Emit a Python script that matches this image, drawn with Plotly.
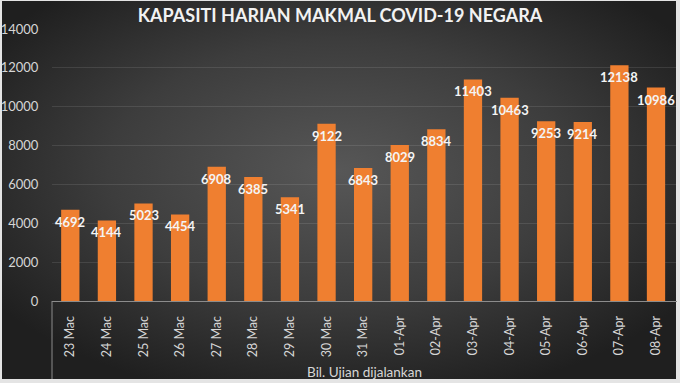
import base64
import plotly.graph_objects as go

categories = ["23 Mac", "24 Mac", "25 Mac", "26 Mac", "27 Mac", "28 Mac", "29 Mac",
              "30 Mac", "31 Mac", "01-Apr", "02-Apr", "03-Apr", "04-Apr", "05-Apr",
              "06-Apr", "07-Apr", "08-Apr"]
tests = [4692, 4144, 5023, 4454, 6908, 6385, 5341, 9122, 6843, 8029, 8834,
         11403, 10463, 9253, 9214, 12138, 10986]
y_ticks = [0, 2000, 4000, 6000, 8000, 10000, 12000, 14000]

W, H = 680, 383
L, R, T, B = 52, 3, 29, 82
pw, ph = W - L - R, H - T - B

FONT = "Lato"

svg = f'''<svg xmlns="http://www.w3.org/2000/svg" width="{W}" height="{H}" viewBox="0 0 {W} {H}">
<defs>
<radialGradient id="g" cx="0.5" cy="0.45" r="0.62">
<stop offset="0" stop-color="#575757"/>
<stop offset="0.55" stop-color="#3d3d3d"/>
<stop offset="1" stop-color="#1f1f1f"/>
</radialGradient>
</defs>
<rect x="0" y="0" width="{W}" height="{H}" fill="#e4e4e4"/>
<rect x="2" y="1" width="{W-6}" height="{H-5}" fill="url(#g)"/>
</svg>'''
src = "data:image/svg+xml;base64," + base64.b64encode(svg.encode()).decode()

fig = go.Figure()
fig.add_trace(go.Bar(
    x=categories, y=tests,
    marker=dict(color="#ef7f30", line=dict(width=0)),
    hoverinfo="x+y",
))

for c, v in zip(categories, tests):
    fig.add_annotation(
        x=c, y=v, xref="x", yref="y", text=f"<b>{v}</b>", showarrow=False,
        yanchor="middle", yshift=-12,
        font=dict(family=FONT, size=13, color="#f4f4f4"),
    )

fig.add_layout_image(dict(
    source=src, xref="paper", yref="paper",
    x=-L / pw, y=1 + T / ph, sizex=W / pw, sizey=H / ph,
    xanchor="left", yanchor="top", sizing="stretch", layer="below",
))

# category axis box line (left vertical)
fig.add_shape(type="line", xref="paper", yref="paper",
              x0=0, x1=0, y0=0, y1=-(B - 4) / ph,
              line=dict(color="#8c8c8c", width=1))

fig.update_layout(
    width=W, height=H,
    margin=dict(l=L, r=R, t=T, b=B, autoexpand=False),
    paper_bgcolor="rgba(0,0,0,0)",
    plot_bgcolor="rgba(0,0,0,0)",
    bargap=0.5,
    showlegend=False,
    title=dict(
        text="<b>KAPASITI HARIAN MAKMAL COVID-19 NEGARA</b>",
        x=0.5, xref="container", xanchor="center",
        y=1 - 16 / H, yref="container", yanchor="middle",
        font=dict(family=FONT, size=18, color="#f2f2f2"),
    ),
    xaxis=dict(
        tickangle=-90, automargin=False,
        tickfont=dict(family=FONT, size=12.5, color="#d6d6d6"),
        showline=True, linecolor="#8c8c8c", linewidth=1,
        showgrid=False, ticks="outside", ticklen=9, tickcolor="rgba(0,0,0,0)",
        title=dict(text="Bil. Ujian dijalankan", standoff=11,
                   font=dict(family=FONT, size=13.5, color="#d6d6d6")),
        fixedrange=True,
    ),
    yaxis=dict(
        range=[0, 14000], tickvals=y_ticks, tickformat="d", automargin=False,
        tickfont=dict(family=FONT, size=13, color="#d6d6d6"),
        showgrid=True, gridcolor="rgba(255,255,255,0.10)", gridwidth=1,
        zeroline=False, showline=False,
        ticks="outside", ticklen=10, tickcolor="rgba(0,0,0,0)",
        fixedrange=True,
    ),
)

fig.write_html(
    "out.html",
    config={"displayModeBar": False},
    post_script="document.body.style.margin='0';document.body.style.overflow='hidden';",
)
